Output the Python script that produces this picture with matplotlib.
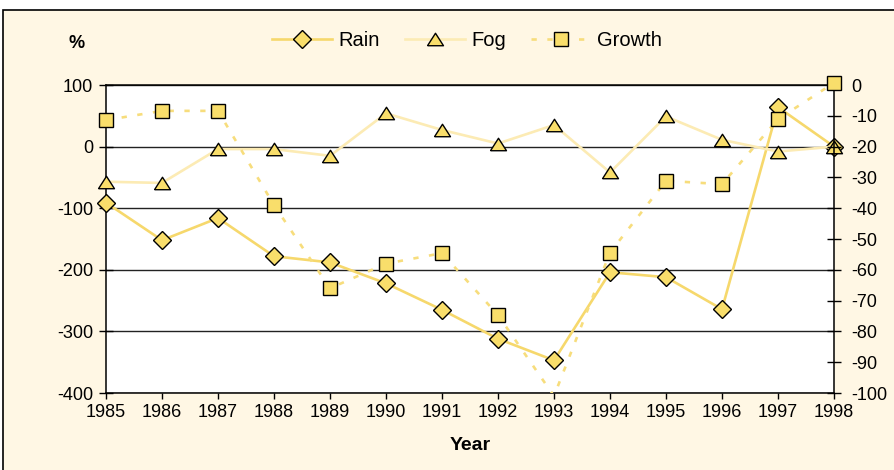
import matplotlib
matplotlib.use("Agg")
import matplotlib.pyplot as plt
from matplotlib.lines import Line2D
from matplotlib.patches import Rectangle

plt.rcParams["font.family"] = ["Liberation Sans", "DejaVu Sans"]
plt.rcParams["axes.unicode_minus"] = False

# ---- data ----
years = list(range(1985, 1999))
rain = [-91, -152, -116, -178, -188, -222, -265, -312, -347, -204, -212, -264, 64, 0]
fog = [-57, -59, -4, -4, -15, 54, 27, 5, 35, -42, 49, 11, -8, 0]
growth = [-11.4, -8.4, -8.4, -39, -66, -58, -54.6, -74.7, -101, -54.4, -31.1, -32.2, -11.1, 0.7]

left_ticks = [100, 0, -100, -200, -300, -400]
right_ticks = [0, -10, -20, -30, -40, -50, -60, -70, -80, -90, -100]
series_names = ["Rain", "Fog", "Growth"]

# ---- styles ----
BG = "#FFF7E4"
RAIN_C = "#F6D86C"
FOG_C = "#FCEBB4"
GROWTH_C = "#F7DD7C"
MARK_C = "#F9DE6B"
GRID_C = "#222222"
TRI = [(-1, -0.78), (1, -0.78), (0, 0.78), (-1, -0.78)]
DASH = (0, (2.0, 4.0))
TICK_FS = 13

W, H = 895, 470
fig = plt.figure(figsize=(W / 100, H / 100), dpi=100)
fig.patch.set_facecolor("white")
fig.patches.append(Rectangle((3 / W, -0.05), 1.2, 1 - 10 / H + 0.05,
                             transform=fig.transFigure, facecolor=BG,
                             edgecolor="black", linewidth=1.2, zorder=-10))

ax = fig.add_axes([106 / W, 1 - 393 / H, (834 - 106) / W, (393 - 85) / H])
ax.set_facecolor("white")
ax.set_xlim(1985, 1998)
ax.set_ylim(-400, 100)
ax.set_xticks(years)
ax.set_yticks(left_ticks)
ax.grid(axis="y", color=GRID_C, linewidth=1.0)
ax.set_axisbelow(True)
for side in ["left", "bottom", "top"]:
    ax.spines[side].set_color("black")
    ax.spines[side].set_linewidth(1.1)
ax.spines["right"].set_visible(False)
ax.tick_params(axis="y", direction="inout", length=9.5, width=1.0, pad=4.5,
               labelsize=TICK_FS)
ax.tick_params(axis="x", direction="out", length=4.5, width=1.0, pad=3.5,
               labelsize=TICK_FS)

ax2 = ax.twinx()
ax2.set_ylim(-100, 0)
ax2.set_yticks(right_ticks)
ax2.spines["right"].set_color("black")
ax2.spines["right"].set_linewidth(1.1)
for side in ["left", "top", "bottom"]:
    ax2.spines[side].set_visible(False)
ax2.tick_params(axis="y", direction="inout", length=9.5, width=1.0, pad=8.0,
                labelsize=TICK_FS)

# Rain
ax.plot(years, rain, color=RAIN_C, lw=1.9, zorder=3)
ax.plot(years, rain, ls="none", marker="D", ms=8.8, mfc=MARK_C, mec="black",
        mew=1.0, clip_on=False, zorder=4)
# Fog
ax.plot(years, fog, color=FOG_C, lw=1.9, zorder=5)
ax.plot(years, fog, ls="none", marker=TRI, ms=11.5, mfc=MARK_C, mec="black",
        mew=1.0, clip_on=False, zorder=6)
# Growth (right axis); points below the axis floor get no marker
ax2.plot(years, growth, color=GROWTH_C, lw=1.9, ls=DASH, zorder=3)
shown = [i for i, v in enumerate(growth) if v >= -100]
ax2.plot([years[i] for i in shown], [growth[i] for i in shown], ls="none",
         marker="s", ms=10, mfc=MARK_C, mec="black", mew=1.0, clip_on=False,
         zorder=4)

handles = [
    Line2D([], [], color=RAIN_C, lw=1.9, marker="D", ms=8.8, mfc=MARK_C,
           mec="black", mew=1.0),
    Line2D([], [], color=FOG_C, lw=1.9, marker=TRI, ms=11.5, mfc=MARK_C,
           mec="black", mew=1.0),
    Line2D([], [], color=GROWTH_C, lw=1.9, ls=DASH, marker="s", ms=10,
           mfc=MARK_C, mec="black", mew=1.0),
]
fig.legend(handles, series_names, loc="center", bbox_to_anchor=(467 / W, 1 - 41 / H),
           ncol=3, frameon=False, fontsize=14.5, handlelength=3.0,
           handletextpad=0.3, columnspacing=1.25, borderpad=0)

fig.text(77 / W, 1 - 44 / H, "%", ha="center", va="center", fontsize=13,
         fontweight="bold")
fig.text(470 / W, 1 - 446 / H, "Year", ha="center", va="center", fontsize=14,
         fontweight="bold")

fig.savefig("out.png", dpi=100, facecolor=fig.get_facecolor())
